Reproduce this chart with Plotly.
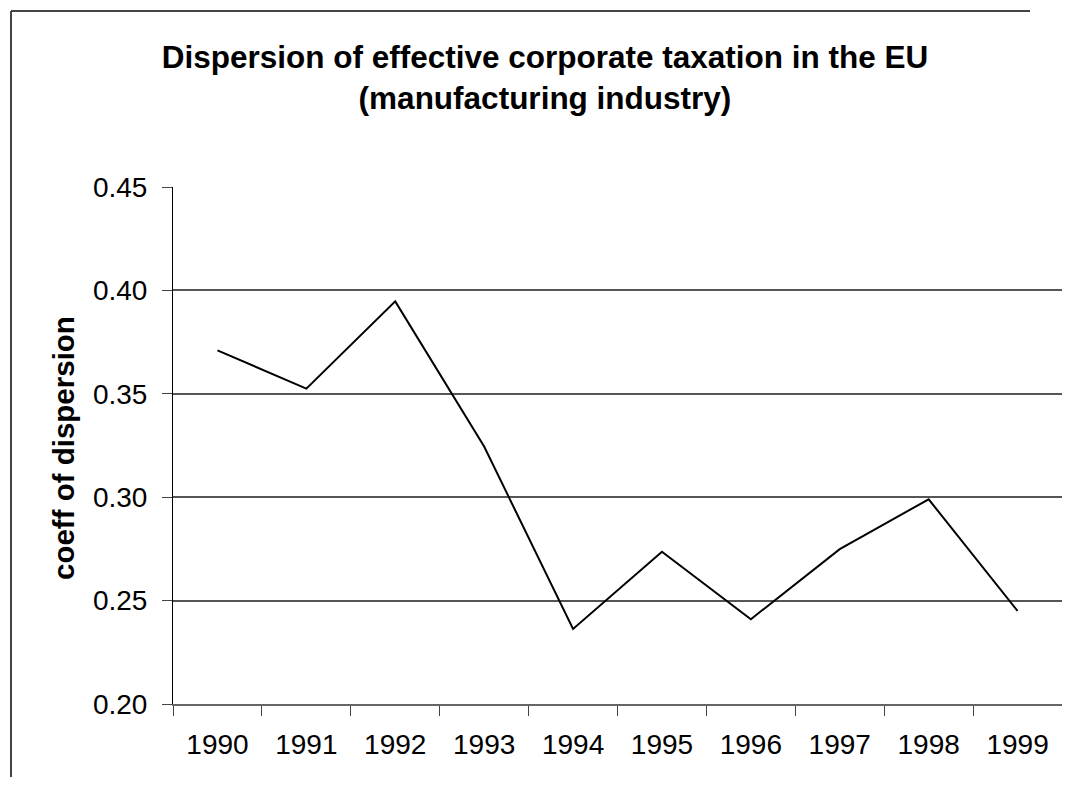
import plotly.graph_objects as go

years = ["1990", "1991", "1992", "1993", "1994", "1995", "1996", "1997", "1998", "1999"]
coeff = [0.371, 0.3525, 0.3947, 0.3245, 0.2363, 0.2736, 0.241, 0.2749, 0.299, 0.245]
y_ticks = [0.20, 0.25, 0.30, 0.35, 0.40, 0.45]

# page has an 8px body margin; figure sized to avoid scrollbars
OFF = 8
W, H = 1054, 771
L, R, T, B = 165, 0, 179, 75
pw, ph = W - L - R, H - T - B

FONT = "Liberation Sans, Arial, sans-serif"

fig = go.Figure()
fig.add_trace(go.Scatter(
    x=years, y=coeff, mode="lines",
    line=dict(color="black", width=2),
    showlegend=False, hoverinfo="x+y",
))

def px_x(p):
    return (p - OFF - L) / pw

def px_y(p):
    return (H - B - (p - OFF)) / ph

fig.update_layout(
    width=W, height=H,
    margin=dict(l=L, r=R, t=T, b=B),
    paper_bgcolor="white", plot_bgcolor="white",
    font=dict(family=FONT, color="black"),
    title=dict(
        text="<b>Dispersion of effective corporate taxation in the EU<br>(manufacturing industry)</b>",
        font=dict(family=FONT, size=31.5, color="black"),
        x=(545 - OFF) / W, xanchor="center", xref="container",
        y=1 - 60 / H, yanchor="top", yref="container",
    ),
    xaxis=dict(
        type="category", range=[-0.5, 9.5],
        showgrid=False, showline=True, linecolor="#666666", linewidth=1.5,
        ticks="outside", ticklen=10, tickcolor="#444444", tickwidth=1,
        tickson="boundaries",
        tickfont=dict(family=FONT, size=28, color="black"),
        ticklabelstandoff=15,
        zeroline=False,
    ),
    yaxis=dict(
        range=[0.20, 0.45], tickvals=y_ticks,
        ticktext=[f"{v:.2f}" for v in y_ticks],
        showgrid=True, gridcolor="#555555", gridwidth=1.5,
        showline=True, linecolor="black", linewidth=1,
        ticks="outside", ticklen=10, tickcolor="#444444", tickwidth=1,
        tickfont=dict(family=FONT, size=28, color="black"),
        ticklabelstandoff=9,
        zeroline=False,
    ),
    annotations=[dict(
        text="<b>coeff of dispersion</b>", textangle=-90,
        x=px_x(63), y=px_y(448), xref="paper", yref="paper",
        xanchor="center", yanchor="middle", showarrow=False,
        font=dict(family=FONT, size=29.5, color="black"),
    )],
    shapes=[
        dict(type="line", xref="paper", yref="paper",
             x0=px_x(11), x1=px_x(1030), y0=px_y(11), y1=px_y(11),
             line=dict(color="#444444", width=2)),
        dict(type="line", xref="paper", yref="paper",
             x0=px_x(11), x1=px_x(11), y0=px_y(11), y1=px_y(OFF + H - 2),
             line=dict(color="#444444", width=2)),
    ],
)

fig.write_html("out.html", config={"displayModeBar": False})
